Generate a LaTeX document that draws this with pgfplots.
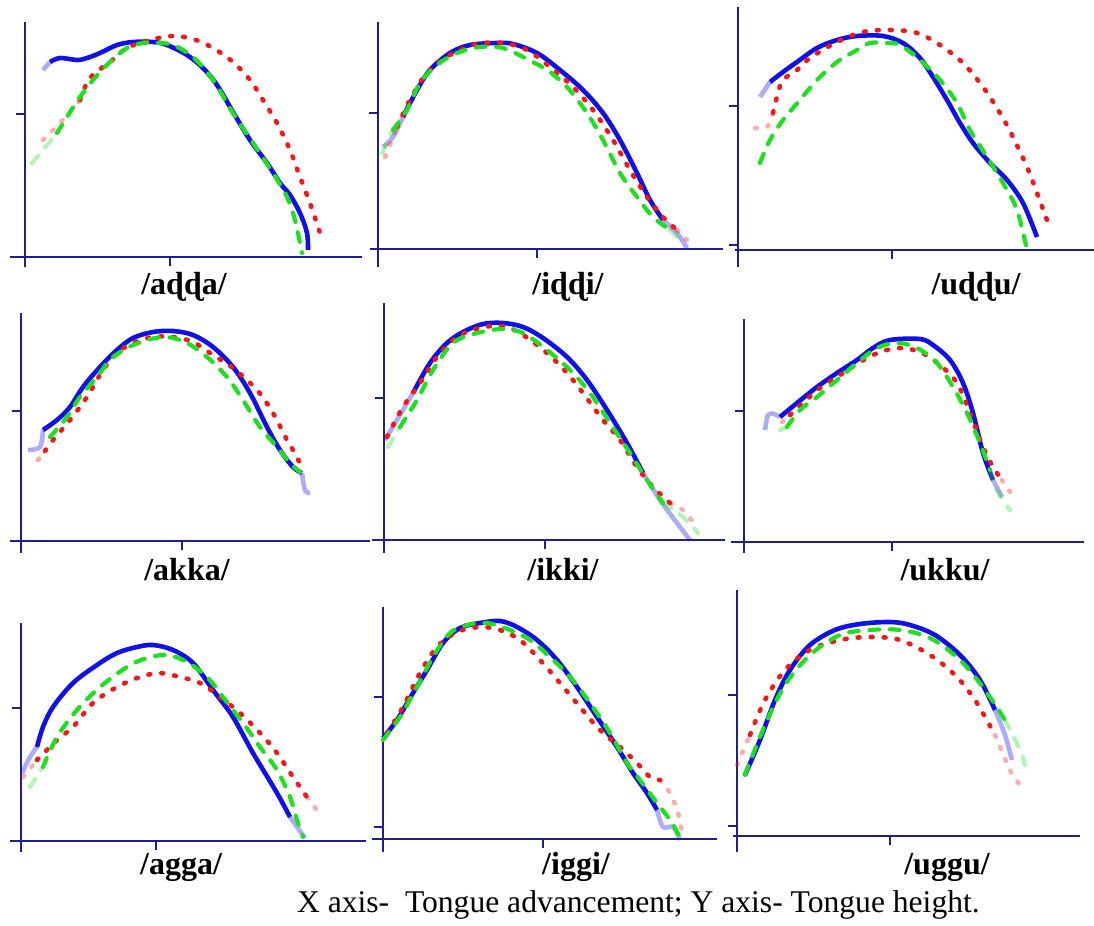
\documentclass[border=0pt]{standalone}
\usepackage{pgfplots}
\pgfplotsset{compat=1.18}
\usepackage{fontspec}
\setmainfont{Liberation Serif}
\definecolor{axisblue}{RGB}{32,32,140}
\definecolor{cblue}{RGB}{16,16,235}
\definecolor{cgreen}{RGB}{30,225,30}
\definecolor{cred}{RGB}{250,20,20}

\pgfplotsset{
  tongue/.style={x=0.5pt,y=0.5pt,axis lines=middle,
    axis line style={-,draw=axisblue,line width=1pt},
    every tick/.style={draw=axisblue,line width=1pt},
    tick align=outside, major tick length=4.5pt,
    xticklabels={}, yticklabels={}, clip=false, anchor=origin},
  bl/.style={draw=cblue,line width=2.3pt,smooth,tension=0.55,no markers,line join=round},
  gr/.style={draw=cgreen,line width=2.1pt,smooth,tension=0.55,no markers,dash pattern=on 4.8pt off 5.4pt,line cap=round},
  rd/.style={draw=cred,line width=2.3pt,smooth,tension=0.55,no markers,dash pattern=on 0.9pt off 5.6pt,line cap=round},
  pale/.style={opacity=0.35},
}
\newcommand\lab[2]{\node[anchor=base,font=\fontsize{16}{19}\selectfont\bfseries] at (#1) {#2};}

\begin{document}
\begin{tikzpicture}
\useasboundingbox (0,0) rectangle (547pt,-463pt);

% /adda/
\begin{axis}[tongue, at={(12.5pt,-128.5pt)}, xmin=-15, xmax=337, ymin=-10, ymax=235, xtick={145}, ytick={143}]
\addplot[bl,pale] coordinates {(18,187)(25,195)};
\addplot[bl] coordinates {(25,195)(35,199)(52,197)(62,199)(75,204)(92,212)(108,215)(128,215)(142,212)(162,202)(178,189)(192,172)(208,145)(225,117)(242,94)(255,74)(265,62)(275,44)(282,24)(283,7)};
\addplot[rd,pale] coordinates {(18,117)(35,134)(55,157)};
\addplot[rd] coordinates {(55,157)(65,179)(85,195)(102,209)(125,217)(148,221)(168,218)(188,209)(208,195)(225,177)(238,157)(252,134)(265,107)(275,80)(285,54)(295,24)};
\addplot[gr,pale] coordinates {(7,94)(18,107)(32,124)};
\addplot[gr] coordinates {(32,124)(42,140)(55,160)(68,177)(85,195)(102,209)(118,214)(132,214)(148,212)(168,200)(188,177)(208,144)(228,114)(248,84)(262,60)(270,37)(277,4)};
\end{axis}

% /iddi/
\begin{axis}[tongue, at={(189pt,-124.5pt)}, xmin=-8, xmax=345, ymin=-18, ymax=227, xtick={159}, ytick={136}]
\addplot[bl,pale] coordinates {(5,102)(15,112)(25,132)};
\addplot[bl] coordinates {(25,132)(39,159)(52,179)(72,196)(92,204)(119,206)(135,205)(159,196)(182,179)(205,159)(225,136)(242,109)(259,76)(272,49)(285,29)};
\addplot[bl,pale] coordinates {(285,29)(299,16)(309,1)};
\addplot[rd,pale] coordinates {(7,92)(19,122)};
\addplot[rd] coordinates {(19,122)(32,149)(49,176)(72,194)(99,205)(125,206)(149,199)(172,182)(195,162)(215,139)(235,109)(252,79)(269,52)(285,32)(299,19)};
\addplot[rd,pale] coordinates {(299,19)(309,9)};
\addplot[gr,pale] coordinates {(4,96)(15,119)};
\addplot[gr] coordinates {(15,119)(29,139)(42,166)(59,184)(79,196)(102,202)(125,201)(145,192)(169,179)(189,162)(209,136)(225,109)(242,76)(259,52)(275,32)(292,19)};
\addplot[gr,pale] coordinates {(292,19)(305,6)};
\end{axis}

% /uddu/
\begin{axis}[tongue, at={(369pt,-125pt)}, xmin=-3, xmax=356, ymin=-17, ymax=243, xtick={154}, ytick={5,144}]
\addplot[bl,pale] coordinates {(22,153)(32,168)};
\addplot[bl] coordinates {(32,168)(45,178)(59,188)(79,202)(99,210)(119,214)(145,214)(165,207)(182,192)(195,173)(209,150)(222,127)(235,107)(252,87)(269,70)(285,47)(299,13)};
\addplot[rd,pale] coordinates {(17,122)(29,123)(35,137)};
\addplot[rd] coordinates {(35,137)(40,157)(45,170)(59,180)(72,192)(99,208)(125,218)(152,220)(179,217)(202,205)(225,187)(245,163)(262,137)(275,113)(289,83)(299,57)(309,30)};
\addplot[gr] coordinates {(22,87)(32,110)(45,130)(62,150)(79,170)(99,188)(119,200)(132,207)(149,207)(162,205)(182,190)(202,170)(219,147)(232,120)(249,93)(265,67)(279,40)(289,0)};
\end{axis}

% /akka/
\begin{axis}[tongue, at={(10.5pt,-270.5pt)}, xmin=-11, xmax=349, ymin=-12, ymax=228, xtick={161}, ytick={130}]
\addplot[bl,pale] coordinates {(7,91)(19,94)(22,111)};
\addplot[bl] coordinates {(22,111)(36,121)(49,134)(62,154)(79,174)(96,191)(112,203)(132,209)(152,210)(172,206)(192,194)(212,174)(229,148)(246,114)(259,91)(272,74)(281,68)};
\addplot[bl,pale] coordinates {(281,68)(284,51)(289,48)};
\addplot[rd,pale] coordinates {(17,81)(24,90)};
\addplot[rd] coordinates {(24,90)(32,101)(49,121)(66,144)(82,171)(96,188)(112,198)(132,204)(152,204)(172,199)(192,186)(212,173)(236,151)(252,128)(266,101)(276,84)(281,71)};
\addplot[gr] coordinates {(29,104)(46,124)(59,144)(76,164)(89,181)(106,193)(126,201)(146,204)(166,198)(186,184)(206,164)(222,141)(239,114)(256,94)(269,78)(279,69)};
\end{axis}

% /ikki/
\begin{axis}[tongue, at={(192pt,-270pt)}, xmin=-12, xmax=341, ymin=-13, ymax=237, xtick={161}, ytick={142}]
\addplot[bl,pale] coordinates {(1,100)(13,120)(29,147)};
\addplot[bl] coordinates {(29,147)(46,177)(63,197)(79,208)(99,216)(119,217)(139,213)(159,202)(183,183)(203,160)(223,130)(243,97)(259,67)};
\addplot[bl,pale] coordinates {(259,67)(276,40)(293,17)(306,0)};
\addplot[rd] coordinates {(3,103)(19,133)(36,157)(53,183)(73,203)(96,212)(119,214)(139,205)(163,187)(183,167)(199,147)(219,120)(236,100)(253,73)(269,53)(286,37)};
\addplot[rd,pale] coordinates {(286,37)(299,30)(313,13)};
\addplot[gr,pale] coordinates {(4,93)(16,113)};
\addplot[gr] coordinates {(16,113)(33,140)(49,170)(69,197)(93,207)(119,211)(139,207)(163,190)(186,170)(206,147)(226,117)(246,87)(263,60)(279,37)};
\addplot[gr,pale] coordinates {(279,37)(299,23)(314,7)};
\end{axis}

% /ukku/
\begin{axis}[tongue, at={(372pt,-271pt)}, xmin=-13, xmax=340, ymin=-11, ymax=223, xtick={148}, ytick={131}]
\addplot[bl,pale] coordinates {(21,112)(24,127)(30,128)(36,125)};
\addplot[bl] coordinates {(36,125)(53,139)(73,155)(93,169)(113,182)(129,194)(146,202)(176,203)(189,197)(206,182)(219,159)(229,129)(239,89)(249,62)};
\addplot[bl,pale] coordinates {(249,62)(258,45)};
\addplot[rd,pale] coordinates {(38,120)(46,127)};
\addplot[rd] coordinates {(46,127)(59,139)(76,154)(96,167)(116,180)(136,190)(156,194)(176,190)(196,177)(213,159)(226,129)(239,95)(249,75)(258,62)};
\addplot[rd,pale] coordinates {(258,62)(266,50)};
\addplot[gr,pale] coordinates {(36,112)(43,115)};
\addplot[gr] coordinates {(43,115)(56,132)(73,145)(93,162)(113,179)(133,194)(153,199)(173,194)(193,179)(209,155)(223,129)(236,99)(246,72)};
\addplot[gr,pale] coordinates {(246,72)(253,52)(266,32)};
\end{axis}

% /agga/
\begin{axis}[tongue, at={(10.5pt,-420.5pt)}, xmin=-11, xmax=345, ymin=-11, ymax=218, xtick={135}, ytick={133}]
\addplot[bl,pale] coordinates {(1,68)(9,84)(16,94)};
\addplot[bl] coordinates {(16,94)(22,114)(32,134)(52,158)(76,176)(96,188)(116,194)(132,196)(152,191)(172,178)(192,151)(212,124)(232,88)(256,48)(269,24)};
\addplot[bl,pale] coordinates {(269,24)(284,3)};
\addplot[rd,pale] coordinates {(2,64)(16,81)};
\addplot[rd] coordinates {(16,81)(36,101)(52,114)(72,138)(96,154)(119,164)(139,168)(159,164)(179,158)(199,144)(219,128)(239,108)(256,88)(272,64)(286,44)};
\addplot[rd,pale] coordinates {(286,44)(301,24)};
\addplot[gr,pale] coordinates {(9,54)(22,74)};
\addplot[gr] coordinates {(22,74)(36,104)(56,131)(79,154)(106,174)(126,183)(146,186)(166,179)(186,164)(202,144)(222,118)(239,94)(256,71)(269,44)(276,21)(282,4)};
\end{axis}

% /iggi/
\begin{axis}[tongue, at={(191.5pt,-419.5pt)}, xmin=-11, xmax=334, ymin=-13, ymax=232, xtick={160}, ytick={12,142}]
\addplot[bl] coordinates {(0,101)(14,119)(30,146)(44,169)(60,196)(77,211)(97,216)(117,218)(134,212)(154,199)(174,179)(194,152)(214,122)(234,92)(250,66)(264,46)(274,29)};
\addplot[bl,pale] coordinates {(274,29)(280,12)(290,12)(297,-1)};
\addplot[rd] coordinates {(4,106)(20,132)(37,166)(54,192)(74,207)(97,212)(117,209)(137,199)(157,179)(177,156)(197,132)(217,109)(237,92)(254,76)(267,62)(277,59)};
\addplot[rd,pale] coordinates {(277,59)(287,46)(295,26)(300,2)};
\addplot[gr] coordinates {(0,99)(17,122)(34,152)(50,182)(67,206)(84,214)(104,216)(127,209)(147,199)(167,182)(187,162)(207,136)(227,106)(244,76)(257,59)(274,36)(287,19)(297,2)};
\end{axis}

% /uggu/
\begin{axis}[tongue, at={(368.5pt,-418pt)}, xmin=-4, xmax=343, ymin=-16, ymax=246, xtick={153}, ytick={10,141}]
\addplot[bl] coordinates {(8,61)(23,96)(38,136)(53,166)(73,191)(98,206)(123,212)(153,214)(173,211)(198,201)(223,181)(243,156)(258,126)};
\addplot[bl,pale] coordinates {(258,126)(268,101)(275,76)};
\addplot[rd,pale] coordinates {(0,71)(13,101)};
\addplot[rd] coordinates {(13,101)(28,136)(48,166)(73,186)(103,196)(133,199)(163,196)(193,181)(218,161)(238,136)(258,101)};
\addplot[rd,pale] coordinates {(258,101)(273,66)(283,51)};
\addplot[gr] coordinates {(8,61)(28,111)(48,151)(73,181)(103,201)(133,206)(163,206)(193,198)(223,176)(248,146)(268,116)};
\addplot[gr,pale] coordinates {(268,116)(283,86)(288,71)};
\end{axis}

\lab{92pt,-147pt}{/aɖɖa/}
\lab{284pt,-147pt}{/iɖɖi/}
\lab{488pt,-147pt}{/uɖɖu/}
\lab{93.5pt,-290pt}{/akka/}
\lab{281.5pt,-290pt}{/ikki/}
\lab{472.5pt,-290pt}{/ukku/}
\lab{90.5pt,-437pt}{/agga/}
\lab{288pt,-437pt}{/iggi/}
\lab{473.5pt,-437pt}{/uggu/}
\node[anchor=base west,font=\fontsize{15.8}{18}\selectfont] at (145pt,-456pt) {X axis-\ \ Tongue advancement; Y axis- Tongue height.};
\end{tikzpicture}
\end{document}
